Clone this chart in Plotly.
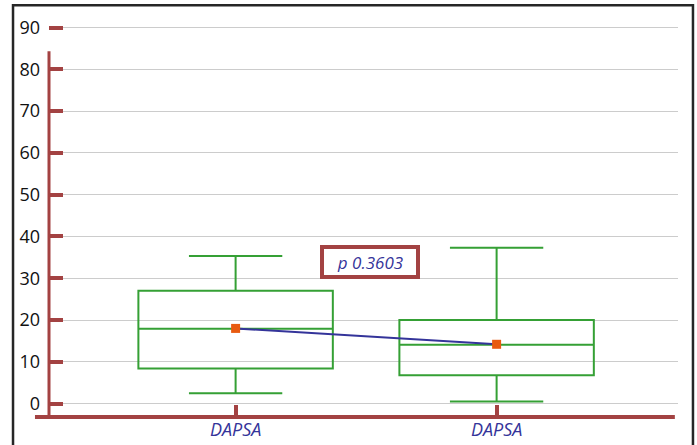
import plotly.graph_objects as go

# Box-plot summary statistics for the two DAPSA measurements
categories = ["DAPSA", "DAPSA"]
positions = [0, 1]
q1_values = [8.4, 6.8]
median_values = [17.9, 14.1]
q3_values = [27.0, 20.0]
lower_whiskers = [2.5, 0.5]
upper_whiskers = [35.3, 37.3]
mean_values = [18.0, 14.2]
p_value_text = "p 0.3603"
y_tick_values = [0, 10, 20, 30, 40, 50, 60, 70, 80, 90]

RED = "#a34242"
GREEN = "#35a035"
NAVY = "#34349a"
ORANGE = "#e85a10"

fig = go.Figure()

for i, pos in enumerate(positions):
    fig.add_trace(go.Box(
        x=[pos],
        q1=[q1_values[i]],
        median=[median_values[i]],
        q3=[q3_values[i]],
        lowerfence=[lower_whiskers[i]],
        upperfence=[upper_whiskers[i]],
        width=0.745,
        whiskerwidth=0.48,
        line=dict(color=GREEN, width=2),
        fillcolor="rgba(255,255,255,0)",
        boxpoints=False,
        hoverinfo="skip",
        showlegend=False,
    ))

# Line joining the means, then the mean markers on top
fig.add_trace(go.Scatter(
    x=positions, y=mean_values, mode="lines",
    line=dict(color=NAVY, width=2), showlegend=False, hoverinfo="skip",
))
fig.add_trace(go.Scatter(
    x=positions, y=mean_values, mode="markers",
    marker=dict(symbol="square", size=9, color=ORANGE),
    showlegend=False, hoverinfo="skip",
))

fig.add_annotation(
    x=0.515, y=34.0, xref="x", yref="y",
    text="<i>" + p_value_text + "</i>", showarrow=False,
    font=dict(family="Open Sans", size=17, color=NAVY),
    width=86, height=20,
    bordercolor=RED, borderwidth=4, borderpad=3, bgcolor="white",
)

# Frame around the chart
fig.add_shape(type="rect", xref="paper", yref="paper",
              x0=-0.0572, x1=1.0238, y0=-0.2, y1=1.024,
              line=dict(color="#262626", width=2.5), layer="below")
# Custom axis lines
fig.add_shape(type="line", xref="paper", yref="paper",
              x0=-0.0223, x1=0.995, y0=0, y1=0,
              line=dict(color=RED, width=4))
fig.add_shape(type="line", xref="paper", yref="y",
              x0=0, x1=0, y0=-3.2, y1=84.3,
              line=dict(color=RED, width=3))

fig.update_xaxes(
    range=[-0.715, 1.695],
    tickvals=positions, ticktext=["<i>" + c + "</i>" for c in categories],
    tickfont=dict(family="Open Sans", size=18, color=NAVY),
    ticks="inside", ticklen=12, tickwidth=4, tickcolor=RED,
    showgrid=False, zeroline=False, showline=False, automargin=False,
)
fig.update_yaxes(
    range=[-3.2, 93.0],
    tickvals=y_tick_values,
    tickfont=dict(family="Open Sans", size=18, color="#111111"),
    ticks="inside", ticklen=14, tickwidth=4, tickcolor=RED,
    ticklabelstandoff=8,
    showgrid=True, gridcolor="#cccccc", gridwidth=1,
    zeroline=False, showline=False, automargin=False,
)

fig.update_layout(
    width=697, height=445,
    margin=dict(l=49, r=19, t=15, b=28),
    paper_bgcolor="white", plot_bgcolor="white",
    showlegend=False,
)

fig.write_html("out.html")
